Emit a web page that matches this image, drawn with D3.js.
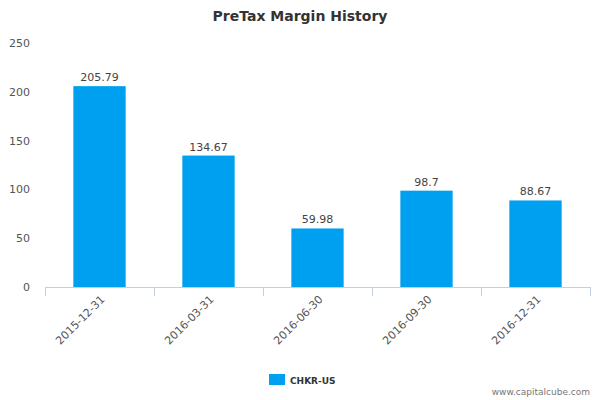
<!DOCTYPE html>
<html><head><meta charset="utf-8">
<script src="https://cdn.jsdelivr.net/npm/d3@7"></script>
<style>body{margin:0;background:#fff;font-family:"DejaVu Sans",sans-serif;}</style>
</head><body><svg id="c" width="600" height="400"></svg>
<script>
const categories=["2015-12-31","2016-03-31","2016-06-30","2016-09-30","2016-12-31"];
const values=[205.79,134.67,59.98,98.7,88.67];
const labels=["205.79","134.67","59.98","98.7","88.67"];
const yTicks=[0,50,100,150,200,250];
const seriesName="CHKR-US";
const svg=d3.select("#c");
const x=d3.scaleBand().domain(categories).range([45,590]).paddingInner(0.52).paddingOuter(0.26);
const y=d3.scaleLinear().domain([0,250]).range([287,43]);
svg.append("text").attr("x",300).attr("y",21).attr("text-anchor","middle").attr("font-size",14).attr("font-weight","bold").attr("fill","#333").text("PreTax Margin History");
svg.selectAll(".yt").data(yTicks).enter().append("text").attr("x",30).attr("y",d=>y(d)+4).attr("text-anchor","end").attr("font-size",11).attr("fill","#555").text(d=>d);
svg.append("line").attr("x1",45).attr("x2",590).attr("y1",287.5).attr("y2",287.5).attr("stroke","#c0d0e0");
const b=d3.scaleBand().domain(categories).range([45,590]);
categories.forEach((c,i)=>{const xx=Math.round(b(c)+b.bandwidth())+0.5;svg.append("line").attr("x1",xx).attr("x2",xx).attr("y1",287).attr("y2",296).attr("stroke","#c0d0e0");});
svg.append("line").attr("x1",45.5).attr("x2",45.5).attr("y1",287).attr("y2",296).attr("stroke","#c0d0e0");
svg.selectAll(".bar").data(values).enter().append("rect").attr("x",(d,i)=>x(categories[i])).attr("width",x.bandwidth()).attr("y",d=>y(d)).attr("height",d=>287-y(d)).attr("fill","#00a0f0");
svg.selectAll(".lbl").data(values).enter().append("text").attr("x",(d,i)=>x(categories[i])+x.bandwidth()/2).attr("y",d=>y(d)-5).attr("text-anchor","middle").attr("font-size",11).attr("fill","#444").text((d,i)=>labels[i]);
categories.forEach(c=>{const cx=x(c)+x.bandwidth()/2+6;svg.append("text").attr("transform",`translate(${cx},300) rotate(-45)`).attr("text-anchor","end").attr("font-size",11).attr("fill","#555").text(c);});
svg.append("rect").attr("x",269).attr("y",374).attr("width",16).attr("height",11).attr("fill","#00a0f0");
svg.append("text").attr("x",290).attr("y",384).attr("font-size",9).attr("font-weight","bold").attr("fill","#333").text(seriesName);
svg.append("text").attr("x",590).attr("y",395).attr("text-anchor","end").attr("font-size",9).attr("fill","#777").text("www.capitalcube.com");
</script></body></html>
